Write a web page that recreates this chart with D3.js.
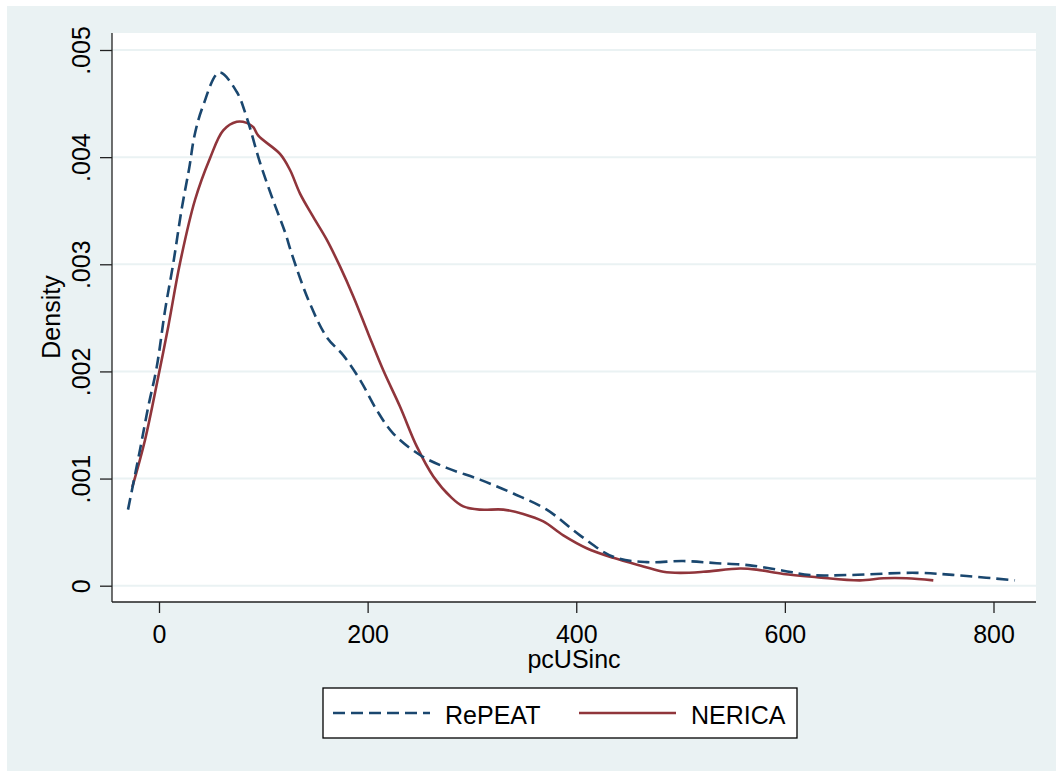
<!DOCTYPE html>
<html>
<head>
<meta charset="utf-8">
<script src="https://cdn.jsdelivr.net/npm/d3@7.9.0/dist/d3.min.js"></script>
<style>
  body { margin: 0; background: #fff; }
  svg { display: block; font-family: "Liberation Sans", Arial, sans-serif; }
</style>
</head>
<body>
<svg id="chart" width="1056" height="771"></svg>
<script>
// values (kernel density estimates)
const repeatX = [-29.7, -18.2, -10.3, -2.2, 5.8, 13.7, 21.8, 29.0, 34.0, 41.9, 57.8,
  74.5, 84.1, 96.8, 109.3, 120.8, 127.2, 143.1, 160.8, 176.7, 192.8,
  208.7, 224.6, 250.2, 275.8, 307.7, 339.7, 371.7, 403.6, 435.5, 467.6,
  502.6, 534.7, 566.6, 598.5, 624.1, 662.4, 726.4, 774.3, 820.6];
const repeatDensity = [0.00071, 0.00127, 0.00167, 0.00204, 0.00257, 0.00301, 0.00352, 0.00390, 0.00420, 0.00447, 0.00479,
  0.00461, 0.00437, 0.00395, 0.00360, 0.00330, 0.00310, 0.00267, 0.00232, 0.00215, 0.00192,
  0.00164, 0.00142, 0.00122, 0.00110, 0.00099, 0.00086, 0.00071, 0.00047, 0.00027, 0.00022,
  0.00023, 0.00021, 0.00019, 0.00014, 0.00010, 0.00010, 0.00012, 0.00009, 0.00005];

const nericaX = [-25.6, -13.4, -0.7, 8.9, 20.1, 34.5, 48.9, 61.6, 74.5, 84.1,
  90.4, 95.2, 116.0, 125.6, 135.2, 148.0, 160.8, 173.5, 186.3, 200.7,
  215.0, 231.1, 247.1, 263.0, 280.6, 291.7, 307.7, 330.1, 349.2, 368.4,
  387.6, 410.0, 435.5, 464.3, 483.5, 499.5, 521.8, 557.0, 573.0, 598.5,
  630.5, 672.0, 694.4, 716.8, 742.3];
const nericaDensity = [0.00092, 0.00136, 0.00195, 0.00242, 0.00301, 0.00360, 0.00399, 0.00425, 0.00433, 0.00432,
  0.00428, 0.00420, 0.00403, 0.00388, 0.00366, 0.00344, 0.00323, 0.00298, 0.00270, 0.00235,
  0.00201, 0.00167, 0.00130, 0.00102, 0.00082, 0.00074, 0.00071, 0.00071, 0.00067, 0.00060,
  0.00047, 0.00035, 0.00026, 0.00018, 0.00013, 0.00012, 0.00013, 0.00016, 0.00015, 0.00011,
  0.00008, 0.00005, 0.00007, 0.00007, 0.00005];

const xTicks = [0, 200, 400, 600, 800];
const yTicks = [0, 0.001, 0.002, 0.003, 0.004, 0.005];
const yTickLabels = ['0', '.001', '.002', '.003', '.004', '.005'];

const seriesNames = ['RePEAT', 'NERICA'];

const svg = d3.select('#chart');
const blue = '#1a476f';
const red = '#90353b';
const bg = '#eaf2f3';

// plot box
const plotLeft = 112, plotRight = 1036, plotTop = 33, plotBottom = 602;

const x = d3.scaleLinear().domain([0, 800]).range([159, 993.5]);
const y = d3.scaleLinear().domain([0, 0.005]).range([585.7, 50]);

// outer background
svg.append('rect')
    .attr('x', 7).attr('y', 6)
    .attr('width', 1049).attr('height', 765)
    .attr('fill', bg);

svg.append('rect')
    .attr('x', plotLeft).attr('y', plotTop)
    .attr('width', plotRight - plotLeft).attr('height', plotBottom - plotTop)
    .attr('fill', '#fff');

// gridlines
svg.append('g')
    .selectAll('line')
    .data(yTicks)
    .join('line')
    .attr('x1', plotLeft).attr('x2', plotRight)
    .attr('y1', d => y(d)).attr('y2', d => y(d))
    .attr('stroke', bg)
    .attr('stroke-width', 2);

// y axis
const yAxis = svg.append('g')
    .attr('transform', `translate(${plotLeft},0)`)
    .call(d3.axisLeft(y).tickValues(yTicks).tickSize(12).tickPadding(0)
        .tickFormat((d, i) => yTickLabels[i]));
yAxis.select('.domain').attr('d', `M0,${plotTop}V${plotBottom}`).attr('stroke', '#222').attr('stroke-width', 1.3);
yAxis.selectAll('.tick line').attr('stroke', '#222').attr('stroke-width', 1.3);
yAxis.selectAll('.tick text')
    .attr('transform', 'rotate(-90)')
    .attr('x', 0).attr('y', -22)
    .attr('dy', 0)
    .attr('text-anchor', 'middle')
    .attr('font-size', 25)
    .attr('fill', '#000');

// x axis
const xAxis = svg.append('g')
    .attr('transform', `translate(0,${plotBottom})`)
    .call(d3.axisBottom(x).tickValues(xTicks).tickSize(11).tickPadding(0));
xAxis.select('.domain').attr('d', `M${plotLeft},0H${plotRight}`).attr('stroke', '#222').attr('stroke-width', 1.3);
xAxis.selectAll('.tick line').attr('stroke', '#222').attr('stroke-width', 1.3);
xAxis.selectAll('.tick text')
    .attr('y', 41).attr('dy', 0)
    .attr('font-size', 25)
    .attr('fill', '#000');

// axis titles
svg.append('text')
    .attr('x', 574).attr('y', 668)
    .attr('text-anchor', 'middle')
    .attr('font-size', 25)
    .text('pcUSinc');

svg.append('text')
    .attr('transform', 'translate(60,317) rotate(-90)')
    .attr('text-anchor', 'middle')
    .attr('font-size', 25)
    .text('Density');

// density curves
const line = d3.line()
    .x(d => x(d[0]))
    .y(d => y(d[1]))
    .curve(d3.curveCatmullRom.alpha(0.5));

svg.append('path')
    .datum(d3.zip(nericaX, nericaDensity))
    .attr('d', line)
    .attr('fill', 'none')
    .attr('stroke', red)
    .attr('stroke-width', 2.6);

svg.append('path')
    .datum(d3.zip(repeatX, repeatDensity))
    .attr('d', line)
    .attr('fill', 'none')
    .attr('stroke', blue)
    .attr('stroke-width', 2.6)
    .attr('stroke-dasharray', '12,6');

// legend
const legend = svg.append('g');
legend.append('rect')
    .attr('x', 323).attr('y', 688)
    .attr('width', 474).attr('height', 50)
    .attr('fill', '#fff')
    .attr('stroke', '#000')
    .attr('stroke-width', 1.3);

const legendItems = [
    { name: seriesNames[0], x0: 333, color: blue, dash: '12,6' },
    { name: seriesNames[1], x0: 579, color: red, dash: null }
];
legendItems.forEach(it => {
    legend.append('line')
        .attr('x1', it.x0).attr('x2', it.x0 + 97)
        .attr('y1', 713).attr('y2', 713)
        .attr('stroke', it.color)
        .attr('stroke-width', 2.6)
        .attr('stroke-dasharray', it.dash);
    legend.append('text')
        .attr('x', it.x0 + 112).attr('y', 724)
        .attr('font-size', 25)
        .text(it.name);
});
</script>
</body>
</html>
